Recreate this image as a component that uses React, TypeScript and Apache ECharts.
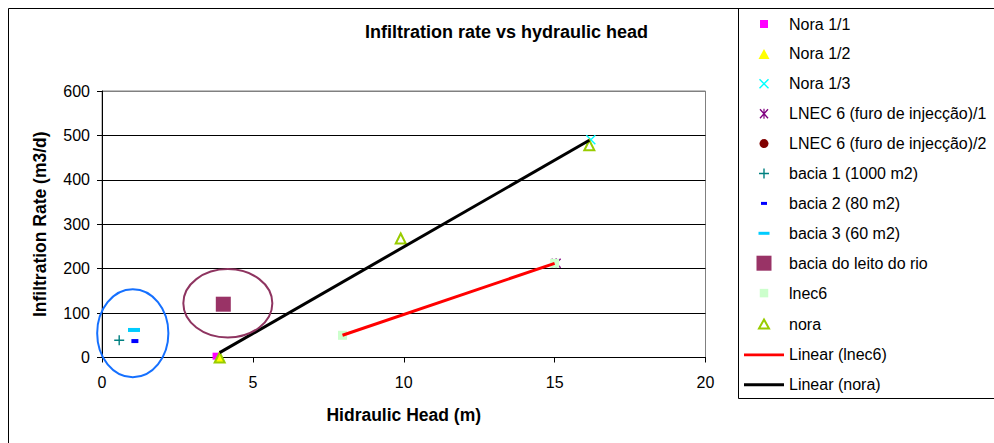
import React, { useEffect, useRef } from 'react';
import * as echarts from 'echarts';

// ---------- text ----------
const titleText = 'Infiltration rate vs hydraulic head';
const xAxisName = 'Hidraulic Head (m)';
const yAxisName = 'Infiltration Rate (m3/d)';

// ---------- axis ranges ----------
const xRange = [0, 20];
const xStep = 5;
const yRange = [0, 600];
const yStep = 100;

// ---------- data (x = hydraulic head m, y = infiltration rate m3/d) ----------
const nora11 = [[3.78, 3]];
const nora12 = [[3.9, 0]];
const nora13 = [[16.2, 490]];
const lnec6Furo1 = [[15.05, 212]];
const lnec6Furo2 = [[8, 50]];
const bacia1 = [[0.57, 39]];
const bacia2 = [[1.09, 37]];
const bacia3 = [[1.06, 62]];
const baciaLeito = [[4.02, 120]];
const lnec6 = [[7.97, 50], [15, 212]];
const nora = [[3.9, 0], [9.9, 268], [16.15, 478]];
const linearLnec6 = [[7.97, 50], [15, 212]];
const linearNora = [[3.9, 11], [16.15, 489]];

// annotation ellipses, in data units: [cx, cy, rx, ry]
const ellipseBacias = [1.02, 54.4, 1.18, 99];
const ellipseLeito = [4.17, 122, 1.475, 77];

// ---------- styles ----------
const FONT = '"Liberation Sans", Arial, Helvetica, sans-serif';
const PAD = 'path://M0,0M40,16';

const X_PATH = 'path://M0,1L1,0L10,9L9,10ZM9,0L10,1L1,10L0,9Z';
const STAR_PATH = 'path://M0,1L1,0L10,9L9,10ZM9,0L10,1L1,10L0,9ZM4.4,0H5.6V10H4.4Z';
const PLUS_PATH = 'path://M4.3,0H5.7V4.3H10V5.7H5.7V10H4.3V5.7H0V4.3H4.3Z';

type Spec = {
  name: string;
  data: number[][];
  type: 'scatter' | 'line';
  symbol?: string;
  size?: number | number[];
  color: string;
  border?: string;
  borderWidth?: number;
  icon: string;
};

const specs: Spec[] = [
  { name: 'Nora 1/1', data: nora11, type: 'scatter', symbol: 'rect', size: 7, color: '#ff00ff', icon: PAD + 'M16,4h8v8h-8z' },
  { name: 'Nora 1/2', data: nora12, type: 'scatter', symbol: 'triangle', size: [11, 10], color: '#ffff00', icon: PAD + 'M20,3L25.5,13L14.5,13Z' },
  { name: 'Nora 1/3', data: nora13, type: 'scatter', symbol: X_PATH, size: 10, color: '#00ffff', icon: PAD + 'M15,4L16,3L25,12L24,13ZM24,3L25,4L16,13L15,12Z' },
  { name: 'LNEC 6 (furo de injecção)/1', data: lnec6Furo1, type: 'scatter', symbol: STAR_PATH, size: 10, color: '#800080', icon: PAD + 'M15.5,4L16.5,3L24.5,12L23.5,13ZM23.5,3L24.5,4L16.5,13L15.5,12ZM19.4,3H20.6V13H19.4Z' },
  { name: 'LNEC 6 (furo de injecção)/2', data: lnec6Furo2, type: 'scatter', symbol: 'circle', size: 5, color: '#800000', icon: PAD + 'M15.5,8A4.5,4.5,0,1,0,24.5,8A4.5,4.5,0,1,0,15.5,8Z' },
  { name: 'bacia 1 (1000 m2)', data: bacia1, type: 'scatter', symbol: PLUS_PATH, size: 10, color: '#008080', icon: PAD + 'M19.3,3H20.7V7.3H25V8.7H20.7V13H19.3V8.7H15V7.3H19.3Z' },
  { name: 'bacia 2 (80 m2)', data: bacia2, type: 'scatter', symbol: 'rect', size: [7, 4], color: '#0000ff', icon: PAD + 'M17,6.5h6v3h-6z' },
  { name: 'bacia 3 (60 m2)', data: bacia3, type: 'scatter', symbol: 'rect', size: [12, 4], color: '#00ccff', icon: PAD + 'M14.5,6.5h11v3h-11z' },
  { name: 'bacia do leito do rio', data: baciaLeito, type: 'scatter', symbol: 'rect', size: 15, color: '#993366', icon: PAD + 'M12.5,0.5h15v15h-15z' },
  { name: 'lnec6', data: lnec6, type: 'scatter', symbol: 'rect', size: 9, color: '#ccffcc', icon: PAD + 'M15.75,3.75h8.5v8.5h-8.5z' },
  { name: 'nora', data: nora, type: 'scatter', symbol: 'triangle', size: [10, 10], color: 'rgba(255,255,255,0)', border: '#99cc00', borderWidth: 2, icon: PAD + 'M20,3.5L25,12.5L15,12.5Z' },
  { name: 'Linear (lnec6)', data: linearLnec6, type: 'line', color: '#ff0000', icon: PAD + 'M0,6.5h41v3h-41z' },
  { name: 'Linear (nora)', data: linearNora, type: 'line', color: '#000000', icon: PAD + 'M0,6.5h41v3h-41z' },
];

const series = specs.map((s) =>
  s.type === 'line'
    ? {
        name: s.name,
        type: 'line',
        data: s.data,
        symbol: 'none',
        silent: true,
        z: 4,
        lineStyle: { color: s.color, width: 3 },
        itemStyle: { color: s.color },
      }
    : {
        name: s.name,
        type: 'scatter',
        data: s.data,
        symbol: s.symbol,
        symbolSize: s.size,
        symbolKeepAspect: false,
        silent: true,
        itemStyle: {
          color: s.color,
          borderColor: s.border || s.color,
          borderWidth: s.borderWidth || 0,
          opacity: 1,
        },
      }
);

const legendData = specs.map((s) => ({
  name: s.name,
  icon: s.icon,
  itemStyle:
    s.name === 'nora'
      ? { color: 'rgba(255,255,255,0)', borderColor: '#99cc00', borderWidth: 2 }
      : { color: s.color, borderWidth: 0 },
}));

const option = {
  animation: false,
  backgroundColor: '#ffffff',
  title: {
    text: titleText,
    left: 506.5,
    top: 32,
    padding: 0,
    textAlign: 'center',
    textVerticalAlign: 'middle',
    textStyle: { fontFamily: FONT, fontSize: 18, fontWeight: 'bold', color: '#000' },
  },
  grid: {
    left: 102,
    top: 91,
    width: 603.5,
    height: 266.5,
    show: true,
    borderColor: '#808080',
    borderWidth: 1,
    backgroundColor: '#ffffff',
    containLabel: false,
  },
  legend: {
    orient: 'vertical',
    left: 743,
    top: 16,
    padding: 0,
    itemWidth: 40,
    itemHeight: 16,
    itemGap: 13.9,
    selectedMode: false,
    symbolKeepAspect: true,
    textStyle: { fontFamily: FONT, fontSize: 16, color: '#000', lineHeight: 16 },
    data: legendData,
  },
  xAxis: {
    type: 'value',
    min: xRange[0],
    max: xRange[1],
    interval: xStep,
    name: xAxisName,
    nameLocation: 'middle',
    nameGap: 48.75,
    nameTextStyle: { fontFamily: FONT, fontSize: 17.5, fontWeight: 'bold', color: '#000' },
    axisLine: { show: true, onZero: false, lineStyle: { color: '#000', width: 1 } },
    axisTick: { show: true, inside: false, length: 5, lineStyle: { color: '#000' } },
    axisLabel: { margin: 16.5, fontFamily: FONT, fontSize: 16, color: '#000' },
    splitLine: { show: false },
  },
  yAxis: {
    type: 'value',
    min: yRange[0],
    max: yRange[1],
    interval: yStep,
    name: yAxisName,
    nameLocation: 'middle',
    nameGap: 52.75,
    nameTextStyle: { fontFamily: FONT, fontSize: 17.5, fontWeight: 'bold', color: '#000' },
    axisLine: { show: true, onZero: false, lineStyle: { color: '#000', width: 1 } },
    axisTick: { show: true, inside: false, length: 5, lineStyle: { color: '#000' } },
    axisLabel: { margin: 12, fontFamily: FONT, fontSize: 16, color: '#000' },
    splitLine: {
      show: true,
      lineStyle: { color: ['#000', '#000', '#000', '#000', '#000', '#000', '#808080'], width: 1 },
    },
  },
  series,
};

export default function App() {
  const ref = useRef<HTMLDivElement>(null);
  useEffect(() => {
    if (!ref.current) return;
    const chart = echarts.init(ref.current, null, { renderer: 'svg' });
    chart.setOption(option as any);

    const ell = (e: number[], stroke: string) => {
      const c = chart.convertToPixel({ gridIndex: 0 }, [e[0], e[1]]) as number[];
      const p = chart.convertToPixel({ gridIndex: 0 }, [e[0] + e[2], e[1] + e[3]]) as number[];
      return {
        type: 'ellipse',
        silent: true,
        z: 10,
        shape: { cx: c[0], cy: c[1], rx: Math.abs(p[0] - c[0]), ry: Math.abs(c[1] - p[1]) },
        style: { fill: 'none', stroke, lineWidth: 2 },
      };
    };

    chart.setOption({
      graphic: [
        {
          type: 'rect',
          silent: true,
          z: 0,
          shape: { x: 8.5, y: 8.5, width: 1000, height: 500 },
          style: { fill: 'none', stroke: '#000', lineWidth: 1 },
        },
        {
          type: 'rect',
          silent: true,
          z: 0,
          shape: { x: 738.5, y: 8.5, width: 300, height: 390 },
          style: { fill: 'none', stroke: '#000', lineWidth: 1 },
        },
        ell(ellipseBacias, '#1570ff'),
        ell(ellipseLeito, '#8e3460'),
      ],
    } as any);

    return () => chart.dispose();
  }, []);
  return <div ref={ref} style={{ position: 'absolute', left: 0, top: 0, width: 994, height: 443 }} />;
}
